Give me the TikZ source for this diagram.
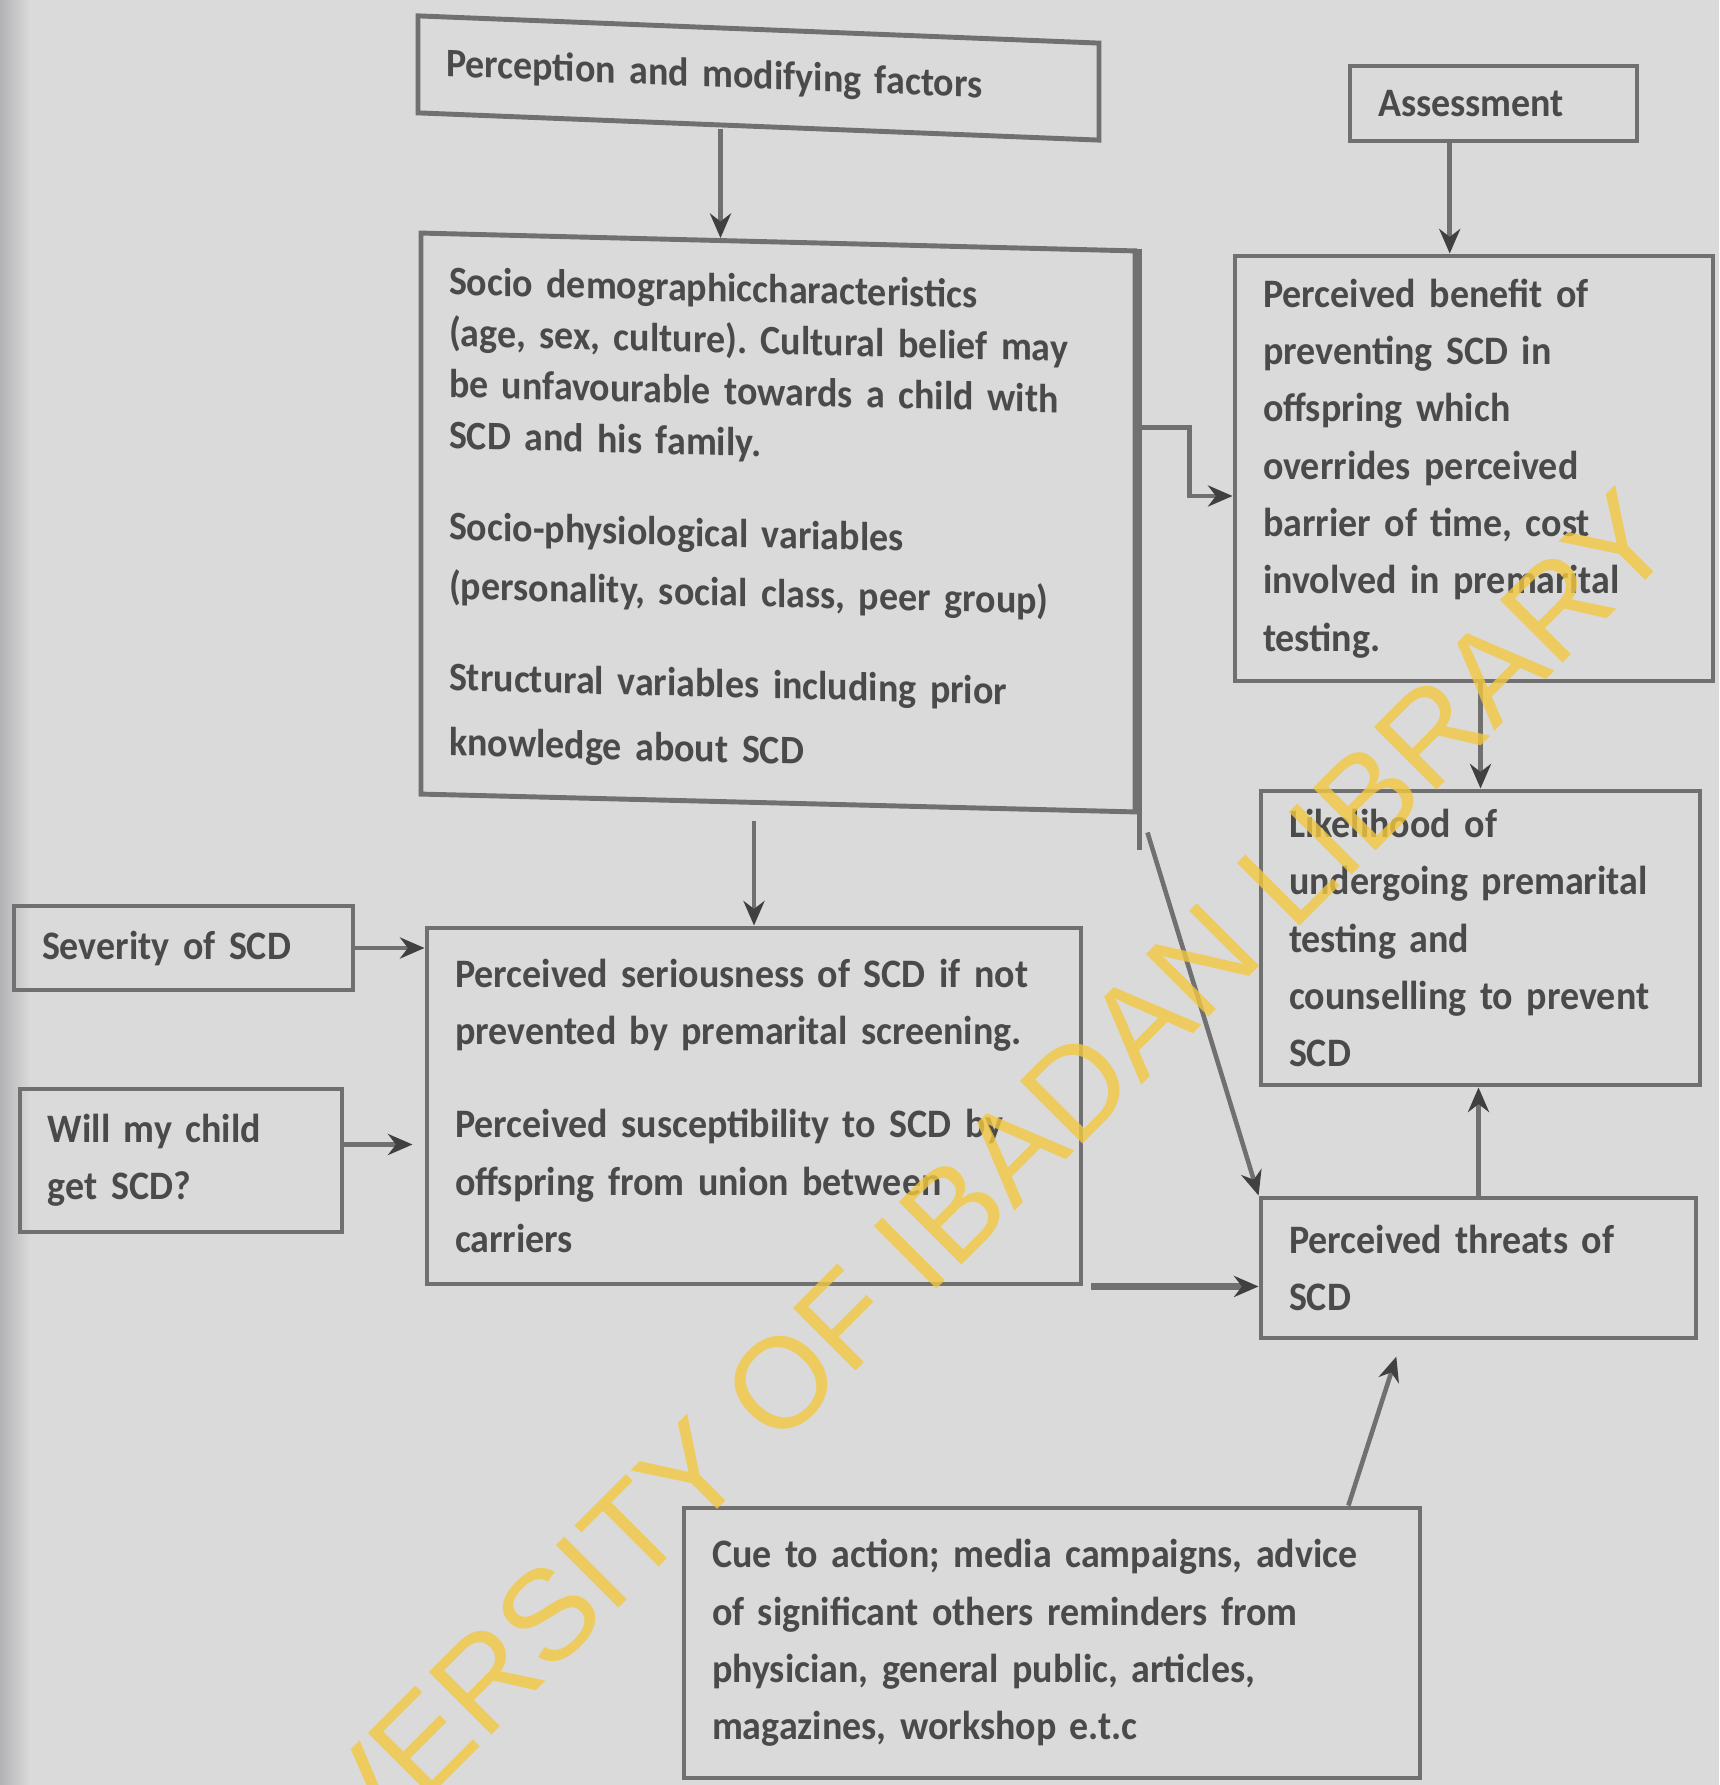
\documentclass[tikz,border=0pt]{standalone}
\usepackage{fontspec}
\setmainfont{Carlito}[FakeStretch=0.94]
\newfontfamily\wmfont{Liberation Sans}
\usetikzlibrary{calc,arrows.meta}
\definecolor{paper}{RGB}{218,218,218}
\definecolor{edge}{RGB}{112,112,112}
\definecolor{ink}{RGB}{74,74,74}
\definecolor{wmark}{RGB}{242,200,64}
\frenchspacing

\begin{document}
\begin{tikzpicture}[>=Stealth,
  box/.style={draw=edge,line width=1.4pt,align=left,inner xsep=0.28cm,inner ysep=0pt,
    font=\bfseries\fontsize{11.5}{16.3}\selectfont,text=ink},
  link/.style={draw=edge,line width=1.3pt},
  arr/.style={link,-{Stealth[length=7pt,width=6pt,color=black!75]}}]
\fill[paper] (0,0) rectangle (17.19,-17.85);
\shade[left color=blue!8!black!18!paper,right color=paper] (0,0) rectangle (0.3,-17.85);
\useasboundingbox (0,0) rectangle (17.19,-17.85);

\node[box,yslant=-0.04,text width=6.25cm,minimum height=0.97cm] (percep) at (7.585,-0.78) {Perception and modifying factors};
\node[box,text width=2.31cm,minimum height=0.75cm] (assess) at (14.935,-1.035) {Assessment};
\node[box,yslant=-0.025,text width=6.58cm,minimum height=5.61cm] (socio) at (7.78,-5.225)
  {\fontsize{11.5}{14.6}\selectfont Socio demographiccharacteristics\\(age, sex, culture). Cultural belief may\\be unfavourable towards a child with\\SCD and his family.\\[11.4pt]
   Socio-physiological variables\\[2.2pt](personality, social class, peer group)\\[11.4pt]
   Structural variables including prior\\[2.2pt]knowledge about SCD};
\node[box,text width=4.22cm,minimum height=4.25cm] (benefit) at (14.74,-4.685)
  {Perceived benefit of\\preventing SCD in\\offspring which\\overrides perceived\\barrier of time, cost\\involved in premarital\\testing.};
\node[box,text width=3.83cm,minimum height=2.94cm] (likely) at (14.805,-9.38)
  {Likelihood of\\undergoing premarital\\testing and\\counselling to prevent\\SCD};
\node[box,text width=2.83cm,minimum height=0.84cm] (severity) at (1.835,-9.48) {Severity of SCD};
\node[box,text width=2.66cm,minimum height=1.43cm] (will) at (1.81,-11.605) {Will my child\\get SCD?};
\node[box,text width=5.98cm,minimum height=3.56cm] (serious) at (7.54,-11.06)
  {Perceived seriousness of SCD if not\\prevented by premarital screening.\\[10.2pt]
   Perceived susceptibility to SCD by\\offspring from union between\\carriers};
\node[box,text width=3.79cm,minimum height=1.40cm] (threats) at (14.785,-12.68) {Perceived threats of\\SCD};
\node[box,text width=6.80cm,minimum height=2.70cm] (cue) at (10.52,-16.43)
  {Cue to action; media campaigns, advice\\of significant others reminders from\\physician, general public, articles,\\magazines, workshop e.t.c};

\coordinate (pin) at ($(socio.north west)!0.42!(socio.north east)$);
\draw[arr] (pin |- percep.south) -- (pin);
\coordinate (asx) at ($(assess.south west)!0.35!(assess.south east)$);
\draw[arr] (asx) -- (asx |- benefit.north);
\draw[arr] (benefit.south -| likely.north) -- (likely.north);
\draw[arr] (threats.north) -- (threats.north |- likely.south);
\draw[arr,shorten <=1.6mm] (serious.north |- socio.south) -- (serious.north);
\draw[arr] (severity.east) -- (severity.east -| serious.west);
\draw[arr,shorten >=1.2mm] ([yshift=1.6mm]will.east) -- ([yshift=1.6mm]will.east -| serious.west);
\draw[arr,line width=2pt] ([xshift=0.8mm]serious.south east) -- (serious.south east -| threats.west);
\coordinate (cx) at ($(cue.north west)!0.9!(cue.north east)$);
\draw[arr,shorten >=1.7mm] (cx) -- ($(threats.south west)!0.325!(threats.south east)$);

\coordinate (busend) at ($(socio.south east)+(0.02,-0.36)$);
\coordinate (tap) at ($(busend)+(0,4.23)$);
\draw[link] ([xshift=0.02cm]socio.north east) -- (busend);
\draw[arr] ($(busend)+(0.08,0.18)$) -- (threats.north west);
\draw[arr] (tap) -- ++(0.5,0) |- ([yshift=-2.75mm]benefit.west);

\node[text=wmark,opacity=0.8,rotate=45,font=\wmfont\fontsize{36.6}{40}\selectfont] (wm) at (9.12,-12.52) {UNIVERSITY OF IBADAN LIBRARY};
\end{tikzpicture}
\end{document}
